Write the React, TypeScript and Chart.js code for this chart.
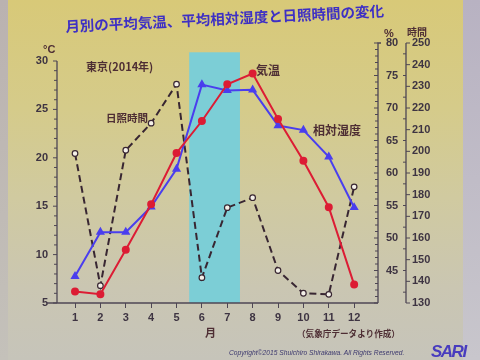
import React, { useEffect, useRef } from 'react';
import { Chart, registerables } from 'chart.js';

Chart.register(...registerables);

// ---- data ----
const months = [1, 2, 3, 4, 5, 6, 7, 8, 9, 10, 11, 12];
const temperature = [6.2, 5.9, 10.5, 15.2, 20.5, 23.8, 27.6, 28.7, 24.0, 19.7, 14.9, 6.9];
const humidity = [44.1, 50.9, 50.9, 54.8, 60.6, 73.6, 72.7, 72.8, 67.3, 66.6, 62.5, 54.7];
const sunshineHours = [199, 138, 200.5, 213, 231, 141.7, 174, 178.6, 145, 134.5, 134, 183.6];
const tempLabeled = [5, 10, 15, 20, 25, 30];
const humidityLabeled = [45, 50, 55, 60, 65, 70, 75, 80];
const hoursLabeled = [130, 140, 150, 160, 170, 180, 190, 200, 210, 220, 230, 240, 250];
const shadedMonths = [5.5, 7.5];
const shadeTop = 30.9;

const TEMP_MIN = 5, TEMP_AXIS_MAX = 30, TEMP_MAX = 31.86;
const HUM_MIN = 40, HUM_MAX = 80;
const HRS_MIN = 130, HRS_MAX = 250;

const AXIS_COLOR = 'rgb(78,70,84)';
const TICK_TEXT = 'rgb(62,52,66)';
const NUM_FONT = "'Liberation Sans', Arial, sans-serif";
const CJK_FONT = "'Noto Sans CJK JP', 'Noto Sans', sans-serif";

function range(a: number, b: number, step: number) {
  const out: number[] = [];
  for (let v = a; v <= b + 1e-9; v += step) out.push(Math.round(v * 100) / 100);
  return out;
}

const decorPlugin = {
  id: 'decor',
  beforeDraw(chart: any) {
    const { ctx, scales } = chart;
    const x = scales.x, y = scales.y;
    const x0 = x.getPixelForValue(shadedMonths[0]);
    const x1 = x.getPixelForValue(shadedMonths[1]);
    const yt = y.getPixelForValue(shadeTop);
    const yb = y.getPixelForValue(TEMP_MIN);
    ctx.save();
    ctx.fillStyle = 'rgb(124,206,214)';
    ctx.fillRect(x0, yt, x1 - x0, yb - yt);
    ctx.restore();
  },
  beforeDatasetsDraw(chart: any) {
    const { ctx, chartArea, scales } = chart;
    const { y, y1, y2 } = scales;
    ctx.save();
    ctx.strokeStyle = AXIS_COLOR;
    ctx.lineWidth = 1.3;
    // x axis line
    ctx.beginPath();
    ctx.moveTo(chartArea.left - 10, chartArea.bottom);
    ctx.lineTo(chartArea.right, chartArea.bottom);
    ctx.stroke();
    // left axis
    const lx = chartArea.left;
    ctx.beginPath();
    ctx.moveTo(lx, y.getPixelForValue(TEMP_MIN));
    ctx.lineTo(lx, y.getPixelForValue(TEMP_AXIS_MAX));
    ctx.stroke();
    ctx.lineWidth = 1;
    range(TEMP_MIN, TEMP_AXIS_MAX, 1).forEach((v) => {
      const p = y.getPixelForValue(v);
      const len = v % 5 === 0 ? 4 : 3;
      ctx.beginPath();
      ctx.moveTo(lx - len, p);
      ctx.lineTo(lx, p);
      ctx.stroke();
    });
    // humidity axis
    const hx = chartArea.right;
    ctx.lineWidth = 1.3;
    ctx.beginPath();
    ctx.moveTo(hx, chartArea.bottom);
    ctx.lineTo(hx, chartArea.top);
    ctx.lineTo(hx + 3, chartArea.top);
    ctx.stroke();
    ctx.lineWidth = 1;
    range(HUM_MIN, HUM_MAX, 1).forEach((v) => {
      const p = y1.getPixelForValue(v);
      const len = v % 5 === 0 ? 4 : 3;
      ctx.beginPath();
      ctx.moveTo(hx - len, p);
      ctx.lineTo(hx, p);
      ctx.stroke();
    });
    // hours axis
    const sx = y2.left;
    ctx.lineWidth = 1.3;
    ctx.beginPath();
    ctx.moveTo(sx, chartArea.bottom);
    ctx.lineTo(sx, chartArea.top);
    ctx.stroke();
    ctx.lineWidth = 1;
    range(HRS_MIN, HRS_MAX, 5).forEach((v) => {
      const p = y2.getPixelForValue(v);
      ctx.beginPath();
      if (v % 10 === 0) {
        ctx.moveTo(sx, p);
        ctx.lineTo(sx + 4, p);
      } else {
        ctx.moveTo(sx - 3, p);
        ctx.lineTo(sx, p);
      }
      ctx.stroke();
    });
    ctx.restore();
  },
};

const abs = (left: number, top: number, size: number, extra: React.CSSProperties = {}): React.CSSProperties => ({
  position: 'absolute',
  left,
  top,
  fontSize: size,
  lineHeight: 1,
  whiteSpace: 'nowrap',
  fontFamily: CJK_FONT,
  fontWeight: 'bold',
  color: 'rgb(78,46,52)',
  ...extra,
});

export default function App() {
  const canvasRef = useRef<HTMLCanvasElement | null>(null);

  useEffect(() => {
    const canvas = canvasRef.current;
    if (!canvas) return;
    const tickFont = { family: NUM_FONT, size: 11, weight: 'bold' as const };
    const chart = new Chart(canvas, {
      type: 'line',
      data: {
        datasets: [
          {
            label: '気温',
            data: months.map((m, i) => ({ x: m, y: temperature[i] })),
            yAxisID: 'y',
            borderColor: 'rgb(220,28,52)',
            backgroundColor: 'rgb(220,28,52)',
            borderWidth: 2,
            pointRadius: 3,
            pointStyle: 'circle',
            tension: 0,
          },
          {
            label: '相対湿度',
            data: months.map((m, i) => ({ x: m, y: humidity[i] })),
            yAxisID: 'y1',
            borderColor: 'rgb(74,62,238)',
            backgroundColor: 'rgb(74,62,238)',
            borderWidth: 2,
            pointRadius: 3.3,
            pointStyle: 'triangle',
            tension: 0,
          },
          {
            label: '日照時間',
            data: months.map((m, i) => ({ x: m, y: sunshineHours[i] })),
            yAxisID: 'y2',
            borderColor: 'rgb(56,38,50)',
            backgroundColor: 'rgb(244,240,232)',
            pointBorderColor: 'rgb(56,38,50)',
            pointBackgroundColor: 'rgb(244,240,232)',
            pointBorderWidth: 1.2,
            borderWidth: 2,
            borderDash: [7, 4],
            pointRadius: 2.8,
            tension: 0,
          },
        ],
      },
      options: {
        responsive: false,
        maintainAspectRatio: false,
        animation: false,
        devicePixelRatio: 1,
        layout: { padding: { left: 31, right: 44, top: 43, bottom: 33 } },
        plugins: { legend: { display: false }, tooltip: { enabled: false } },
        scales: {
          x: {
            type: 'linear',
            min: 0.29,
            max: 12.94,
            afterBuildTicks: (s: any) => {
              s.ticks = months.map((v) => ({ value: v }));
            },
            afterFit: (s: any) => {
              s.height = 24;
            },
            grid: { drawOnChartArea: false, drawTicks: true, tickLength: 5, color: AXIS_COLOR, lineWidth: 1 },
            border: { display: false },
            ticks: { color: TICK_TEXT, font: tickFont, padding: 3, autoSkip: false, maxRotation: 0 },
          },
          y: {
            type: 'linear',
            position: 'left',
            min: TEMP_MIN,
            max: TEMP_MAX,
            afterBuildTicks: (s: any) => {
              s.ticks = tempLabeled.map((v) => ({ value: v }));
            },
            afterFit: (s: any) => {
              s.width = 26;
            },
            grid: { drawOnChartArea: false, drawTicks: false },
            border: { display: false },
            ticks: { color: TICK_TEXT, font: tickFont, padding: 9, autoSkip: false },
          },
          y1: {
            type: 'linear',
            position: 'right',
            min: HUM_MIN,
            max: HUM_MAX,
            afterBuildTicks: (s: any) => {
              s.ticks = humidityLabeled.map((v) => ({ value: v }));
            },
            afterFit: (s: any) => {
              s.width = 28;
            },
            grid: { drawOnChartArea: false, drawTicks: false },
            border: { display: false },
            ticks: { color: TICK_TEXT, font: tickFont, padding: 8, autoSkip: false },
          },
          y2: {
            type: 'linear',
            position: 'right',
            min: HRS_MIN,
            max: HRS_MAX,
            afterBuildTicks: (s: any) => {
              s.ticks = hoursLabeled.map((v) => ({ value: v }));
            },
            afterFit: (s: any) => {
              s.width = 30;
            },
            grid: { drawOnChartArea: false, drawTicks: false },
            border: { display: false },
            ticks: { color: TICK_TEXT, font: tickFont, padding: 6, autoSkip: false },
          },
        },
      },
      plugins: [decorPlugin],
    } as any);
    return () => chart.destroy();
  }, []);

  return (
    <div
      style={{
        position: 'fixed',
        left: 0,
        top: 0,
        width: 480,
        height: 360,
        overflow: 'hidden',
        background:
          'linear-gradient(to bottom, rgb(216,201,120) 0%, rgb(213,203,138) 30%, rgb(208,202,160) 55%, rgb(202,198,178) 80%, rgb(198,196,186) 100%)',
      }}
    >
      <div style={{ position: 'absolute', left: 0, top: 0, width: 8, height: 360, background: 'linear-gradient(to bottom, rgb(186,178,176), rgb(196,193,186))' }} />
      <div style={{ position: 'absolute', left: 463, top: 0, width: 17, height: 360, background: 'linear-gradient(to bottom, rgb(184,178,194), rgb(200,198,204))' }} />
      <canvas ref={canvasRef} width={480} height={360} style={{ position: 'absolute', left: 0, top: 0, display: 'block' }} />
      <div
        style={abs(65, 19, 14.5, {
          color: 'rgb(62,48,196)',
          transform: 'rotate(-2.8deg)',
          transformOrigin: 'left top',
        })}
      >
        月別の平均気温、平均相対湿度と日照時間の変化
      </div>
      <div style={abs(43, 44, 11, { fontFamily: NUM_FONT })}>°C</div>
      <div style={abs(384, 28, 11, { fontFamily: NUM_FONT })}>%</div>
      <div style={abs(407, 27, 10)}>時間</div>
      <div style={abs(86, 61, 11)}>東京(2014年)</div>
      <div style={abs(106, 113, 10.5)}>日照時間</div>
      <div style={abs(256, 64, 12)}>気温</div>
      <div style={abs(313, 124, 12)}>相対湿度</div>
      <div style={abs(205, 327, 11)}>月</div>
      <div style={abs(297, 329, 8.6)}>（気象庁データより作成）</div>
      <div
        style={abs(229, 350, 6.7, {
          fontFamily: NUM_FONT,
          fontStyle: 'italic',
          fontWeight: 'normal',
          color: 'rgb(60,56,110)',
        })}
      >
        Copyright©2015 Shuichiro Shirakawa. All Rights Reserved.
      </div>
      <div
        style={abs(431, 343, 17, {
          fontFamily: NUM_FONT,
          fontStyle: 'italic',
          color: 'rgb(72,60,190)',
          letterSpacing: -1.5,
        })}
      >
        SARI
      </div>
    </div>
  );
}
